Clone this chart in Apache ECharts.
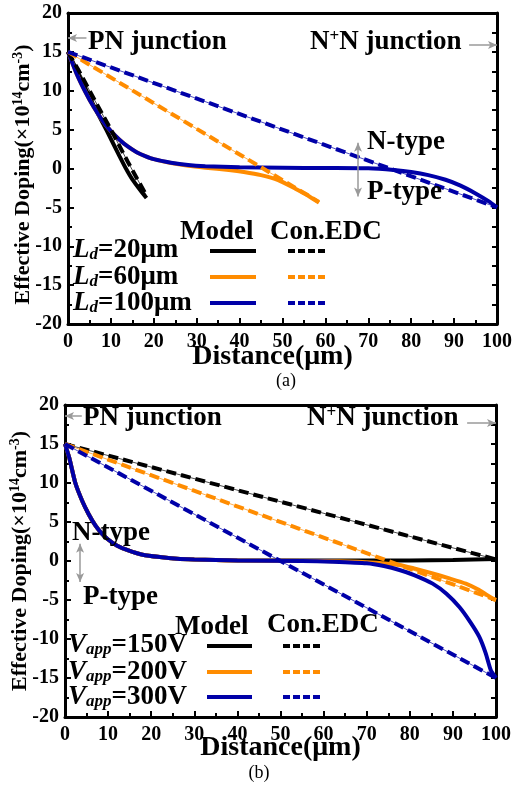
<!DOCTYPE html>
<html><head><meta charset="utf-8">
<script src="https://cdn.jsdelivr.net/npm/echarts@6/dist/echarts.min.js"></script>
<style>html,body{margin:0;padding:0;background:#fff}#c{width:515px;height:791px}</style>
</head><body><div id="c"></div>
<script>
// ---------- data ----------
const xTicks = [0,10,20,30,40,50,60,70,80,90,100];
const yTicks = [-20,-15,-10,-5,0,5,10,15,20];
// Panel (a)
const aLd20Model = [[0,15],[3,11.5],[6,8.1],[9,4.9],[12,1.6],[13.5,0],[15,-1.4],[17,-2.9],[18.3,-3.8]];
const aLd20EDC   = [[0,15],[2.4,12.7],[6.2,8.8],[10,5],[13.9,0.9],[18.2,-3.4]];
const aLd60Model = [[0,15],[2,12.2],[4,9.9],[6,7.9],[8,6.2],[10,4.8],[12,3.7],[14,2.8],[16,2.1],[18,1.6],[20,1.2],[24,0.7],[28,0.35],[32,0.1],[37.5,-0.2],[41,-0.45],[45,-0.85],[49,-1.5],[53,-2.6],[56,-3.5],[58.5,-4.4]];
const aLd60EDC   = [[0,15],[58.5,-4.3]];
const aLd100Model= [[0,15],[2,12.2],[4,9.9],[6,7.9],[8,6.2],[10,4.8],[12,3.7],[14,2.8],[16,2.1],[18,1.6],[20,1.2],[24,0.75],[28,0.45],[32,0.3],[40,0.15],[50,0.1],[60,0.06],[70,0.02],[76,-0.2],[80,-0.45],[84,-0.85],[88,-1.45],[91.5,-2.2],[95,-3.2],[98,-4.2],[100,-5]];
const aLd100EDC  = [[0,15],[100,-5]];
// Panel (b)
const bV150Model = [[0,15],[1,13.2],[2.4,10.0],[4,7.7],[5.5,6.0],[7,4.6],[8.5,3.55],[10,2.75],[12,2.0],[14.7,1.35],[18,0.8],[22,0.5],[26,0.3],[30,0.2],[35,0.12],[40,0.08],[60,0.05],[80,0.08],[90,0.12],[100,0.25]];
const bV200Model = [[0,15],[1,13.2],[2.4,10.0],[4,7.7],[5.5,6.0],[7,4.6],[8.5,3.55],[10,2.75],[12,2.0],[14.7,1.35],[18,0.8],[22,0.5],[26,0.3],[30,0.2],[35,0.12],[40,0.05],[60,0],[70,-0.15],[77.6,-0.5],[81,-0.95],[85.3,-1.6],[89,-2.2],[93,-2.9],[96,-3.7],[99.2,-4.8],[100,-5]];
const bV300Model = [[0,15],[1,13.2],[2.4,10.0],[4,7.7],[5.5,6.0],[7,4.6],[8.5,3.55],[10,2.75],[12,2.0],[14.7,1.35],[18,0.8],[22,0.5],[26,0.3],[30,0.2],[35,0.12],[40,0.05],[55,0],[62,-0.1],[70,-0.3],[74,-0.65],[77.6,-1.15],[81,-1.8],[85.3,-2.9],[88.5,-4.2],[91.5,-5.9],[94,-7.8],[96.1,-9.7],[97.6,-11.8],[98.8,-14.0],[100,-15]];
const bV150EDC   = [[0,15],[100,0.2]];
const bV200EDC   = [[0,15],[100,-5]];
const bV300EDC   = [[0,15],[100,-15]];
// annotation arrows (data coords)
const aArrows = [ [[4.3,16.8],[0,16.8]], [[93.5,15.9],[100,15.9]] ];
const aTypeArrow = [[67.6,3.3],[67.6,-3.6]];
const bArrows = [ [[3.9,18.6],[0,18.6]], [[93.3,17.7],[100,17.7]] ];
const bTypeArrow = [[3.5,2.2],[3.5,-2.7]];

// ---------- styles ----------
const FONT = 'Liberation Serif';
const BLACK = '#000000', ORANGE = '#FF8C00', BLUE = '#0000A8', GRAY = '#9a9a9a';

function xAxes(grid){
  return [{
    gridIndex:grid, type:'value', min:0, max:100, interval:10, position:'bottom',
    axisLine:{onZero:false, lineStyle:{color:'#000', width:3}},
    axisTick:{inside:true, length:6, lineStyle:{color:'#000', width:2}},
    minorTick:{show:true, splitNumber:2, length:4, lineStyle:{color:'#000', width:2}},
    splitLine:{show:false},
    axisLabel:{margin:8, fontFamily:FONT, fontWeight:'bold', fontSize:20, color:'#000',
      formatter:v=>xTicks.includes(v)?String(v):''},
    name:'Distance(μm)', nameLocation:'middle', nameGap: grid===0?19:17, nameMoveOverlap:false,
    nameTextStyle:{fontFamily:FONT, fontWeight:'bold', fontSize:28, color:'#000', padding:[0,grid===0?20:0,0,0]}
  },{
    gridIndex:grid, type:'value', min:0, max:100, interval:10, position:'top',
    axisLine:{onZero:false, lineStyle:{color:'#000', width:3}},
    axisTick:{show:false}, axisLabel:{show:false}, splitLine:{show:false}
  }];
}
function yAxes(grid){
  return [{
    gridIndex:grid, type:'value', min:-20, max:20, interval:5, position:'left',
    axisLine:{onZero:false, lineStyle:{color:'#000', width:3}},
    axisTick:{inside:true, length:6, lineStyle:{color:'#000', width:2}},
    minorTick:{show:true, splitNumber:2, length:4, lineStyle:{color:'#000', width:2}},
    splitLine:{show:false},
    axisLabel:{margin:6, fontFamily:FONT, fontWeight:'bold', fontSize:20, color:'#000',
      formatter:v=>yTicks.includes(v)?String(v):''},
    name:'{t|Effective Doping(×10}{s|14}{t|cm}{s|-3}{t|)}', nameLocation:'middle', nameRotate:90, nameGap:33, nameMoveOverlap:false,
    nameTextStyle:{padding:[0, grid===0?12:0, 0, 0], rich:{
      t:{fontFamily:FONT, fontWeight:'bold', fontSize:22, color:'#000', lineHeight:24},
      s:{fontFamily:FONT, fontWeight:'bold', fontSize:14, color:'#000', verticalAlign:'top', lineHeight:14}
    }}
  },{
    gridIndex:grid, type:'value', min:-20, max:20, interval:5, position:'right',
    axisLine:{onZero:false, lineStyle:{color:'#000', width:3}},
    axisTick:{inside:true, length:5, lineStyle:{color:'#000', width:2}},
    minorTick:{show:true, splitNumber:2, length:5, lineStyle:{color:'#000', width:2}},
    axisLabel:{show:false}, splitLine:{show:false}
  }];
}

function modelSeries(name, data, color, xi, yi){
  return {name, type:'line', data, xAxisIndex:xi, yAxisIndex:yi, symbol:'none', smooth:0.2,
    lineStyle:{color, width:4}, silent:true, z:3};
}
function edcSeries(name, data, color, xi, yi){
  return [
    {name:name+'_thin', type:'line', data, xAxisIndex:xi, yAxisIndex:yi, symbol:'none',
      lineStyle:{color, width:1, opacity:0.7}, silent:true, z:2},
    {name, type:'line', data, xAxisIndex:xi, yAxisIndex:yi, symbol:'none',
      lineStyle:{color, width:4, type:[10,5]}, silent:true, z:4}
  ];
}
function arrowLine(p, q, both){
  return [{coord:p, symbol: both?'arrow':'none'}, {coord:q, symbol:'arrow'}];
}
function annotSeries(xi, yi, arrows, typeArrow){
  return {type:'line', data:[], xAxisIndex:xi, yAxisIndex:yi, silent:true, z:1,
    markLine:{silent:true, animation:false, symbolSize:[6,9], label:{show:false},
      lineStyle:{color:GRAY, width:1.5, type:'solid'}, emphasis:{disabled:true},
      data:[
        [{yAxis:0, symbol:'none', lineStyle:{width:2, color:'#a0a0a0'}},{symbol:'none'}],
        arrowLine(arrows[0][0], arrows[0][1], false),
        arrowLine(arrows[1][0], arrows[1][1], false),
        arrowLine(typeArrow[0], typeArrow[1], true)
      ]}};
}

const series = [
  annotSeries(0,0,aArrows,aTypeArrow),
  modelSeries('aLd20', aLd20Model, BLACK, 0,0),
  modelSeries('aLd60', aLd60Model, ORANGE, 0,0),
  modelSeries('aLd100', aLd100Model, BLUE, 0,0),
  ...edcSeries('aLd20e', aLd20EDC, BLACK, 0,0),
  ...edcSeries('aLd60e', aLd60EDC, ORANGE, 0,0),
  ...edcSeries('aLd100e', aLd100EDC, BLUE, 0,0),
  annotSeries(2,2,bArrows,bTypeArrow),
  modelSeries('bV150', bV150Model, BLACK, 2,2),
  modelSeries('bV200', bV200Model, ORANGE, 2,2),
  modelSeries('bV300', bV300Model, BLUE, 2,2),
  ...edcSeries('bV150e', bV150EDC, BLACK, 2,2),
  ...edcSeries('bV200e', bV200EDC, ORANGE, 2,2),
  ...edcSeries('bV300e', bV300EDC, BLUE, 2,2)
];

// ---------- text / legend graphics ----------
const bigRich = {
  t:{fontFamily:FONT, fontWeight:'bold', fontSize:27, fill:'#000'},
  sup:{fontFamily:FONT, fontWeight:'bold', fontSize:17, fill:'#000', verticalAlign:'top'},
  i:{fontFamily:FONT, fontWeight:'bold', fontStyle:'italic', fontSize:27, fill:'#000'},
  sub:{fontFamily:FONT, fontWeight:'bold', fontStyle:'italic', fontSize:17, fill:'#000', verticalAlign:'bottom'}
};
function txt(x, y, text){
  return {type:'text', x, y, silent:true, z:100,
    style:{text, rich:bigRich, textVerticalAlign:'middle', verticalAlign:'middle', fontFamily:FONT, fontWeight:'bold', fontSize:27, fill:'#000'}};
}
function caption(x, y, text){
  return {type:'text', x, y, silent:true, z:100,
    style:{text, textAlign:'center', align:'center', textVerticalAlign:'middle', verticalAlign:'middle', fontFamily:FONT, fontSize:18, fill:'#000'}};
}
function seg(x1, x2, y, color, dashed){
  return {type:'line', silent:true, z:100, shape:{x1, y1:y, x2, y2:y},
    style:{stroke:color, lineWidth:4, lineDash: dashed?[7,3]:null}};
}

const graphics = [
  // panel (a)
  txt(88, 42, '{t|PN junction}'),
  txt(310, 42, '{t|N}{sup|+}{t|N junction}'),
  txt(367, 142, '{t|N-type}'),
  txt(367, 192, '{t|P-type}'),
  txt(180, 232, '{t|Model}'),
  txt(270, 232, '{t|Con.EDC}'),
  txt(73, 250, '{i|L}{sub|d}{t|=20μm}'),
  txt(73, 277, '{i|L}{sub|d}{t|=60μm}'),
  txt(73, 303, '{i|L}{sub|d}{t|=100μm}'),
  seg(210, 256, 251, BLACK, false), seg(210, 256, 277, ORANGE, false), seg(210, 256, 303, BLUE, false),
  seg(288, 327, 251, BLACK, true), seg(288, 327, 277, ORANGE, true), seg(288, 327, 303, BLUE, true),
  caption(286, 381, '(a)'),
  // panel (b)
  txt(83, 418, '{t|PN junction}'),
  txt(307, 418, '{t|N}{sup|+}{t|N junction}'),
  txt(72, 533, '{t|N-type}'),
  txt(83, 597, '{t|P-type}'),
  txt(175, 627, '{t|Model}'),
  txt(267, 625, '{t|Con.EDC}'),
  txt(68, 645, '{i|V}{sub|app}{t|=150V}'),
  txt(68, 672, '{i|V}{sub|app}{t|=200V}'),
  txt(68, 697, '{i|V}{sub|app}{t|=300V}'),
  seg(207, 252, 646, BLACK, false), seg(207, 252, 672, ORANGE, false), seg(207, 252, 697, BLUE, false),
  seg(283, 323, 646, BLACK, true), seg(283, 323, 672, ORANGE, true), seg(283, 323, 697, BLUE, true),
  caption(259, 773, '(b)')
];

const chart = echarts.init(document.getElementById('c'), null, {renderer:'canvas'});
chart.setOption({
  animation:false,
  backgroundColor:'#fff',
  grid:[{left:68, top:13, width:432, height:311},{left:63, top:405, width:433, height:312}],
  xAxis:[...xAxes(0), ...xAxes(1)],
  yAxis:[...yAxes(0), ...yAxes(1)],
  series,
  graphic:graphics
});
</script>
</body></html>
